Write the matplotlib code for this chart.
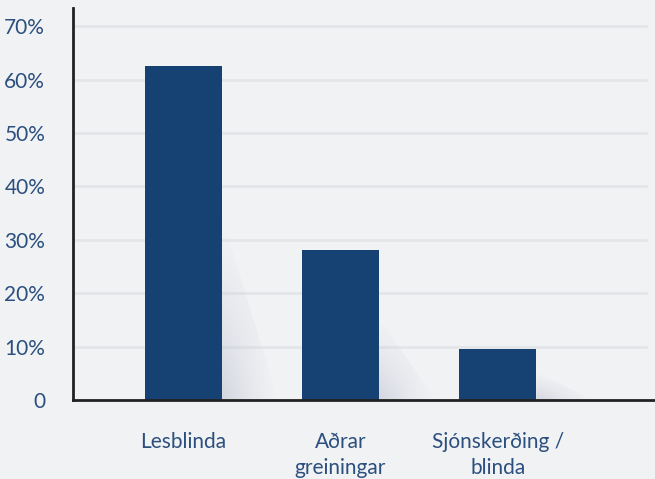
import matplotlib.pyplot as plt
import numpy as np
from matplotlib.patches import Polygon

categories = ["Lesblinda", "Aðrar\ngreiningar", "Sjónskerðing /\nblinda"]
values = [62.5, 28.0, 9.5]
yticks = [0, 10, 20, 30, 40, 50, 60, 70]
ytick_labels = ["0", "10%", "20%", "30%", "40%", "50%", "60%", "70%"]

bg = "#f1f2f4"
bar_color = "#154273"
text_color = "#2b4f7e"

plt.rcParams['font.family'] = ['Lato', 'DejaVu Sans']

fig = plt.figure(figsize=(6.55, 4.79), dpi=100, facecolor=bg)
ax = fig.add_axes([73 / 655, 79 / 479, 1 - 73 / 655, 392 / 479])
ax.set_facecolor(bg)

x = np.arange(len(categories))
width = 0.49

# soft shadow on the right of each bar
for xi, v in zip(x, values):
    x0 = xi + width / 2
    dx = 0.36
    h = v * 0.55
    gx = np.linspace(0, 1, 60)
    gy = np.linspace(0, 1, 60)
    GX, GY = np.meshgrid(gx, gy)
    grad = np.zeros((60, 60, 4))
    grad[..., 0] = 0.72
    grad[..., 1] = 0.73
    grad[..., 2] = 0.80
    grad[..., 3] = np.clip((1 - GX) * (1 - GY), 0, 1) ** 1.3 * 0.5
    im = ax.imshow(grad, extent=[x0, x0 + dx, 0, h], origin='lower',
                   aspect='auto', zorder=1, interpolation='bilinear')
    poly = Polygon([[x0, 0], [x0, h], [x0 + dx, 0]], closed=True,
                   transform=ax.transData, facecolor='none', edgecolor='none')
    ax.add_patch(poly)
    im.set_clip_path(poly)

ax.bar(x, values, width=width, color=bar_color, zorder=3)

ax.set_xlim(-0.70, 3.0)
ax.set_ylim(0, 73.4)

ax.set_yticks(yticks)
ax.set_yticklabels(ytick_labels)
ax.set_xticks(x)
ax.set_xticklabels(categories, linespacing=1.4)
ax.tick_params(axis='both', length=0, labelsize=15, colors=text_color)
ax.tick_params(axis='y', pad=20)
ax.tick_params(axis='x', pad=23)
for lbl in ax.get_yticklabels():
    lbl.set_horizontalalignment('right')

ax.grid(axis='y', color='#e3e5e9', linewidth=2, zorder=0)
ax.set_axisbelow(True)
for g in ax.get_ygridlines():
    g.set_xdata([0, 0.984])
    g.set_transform(ax.get_yaxis_transform())

ax.spines['top'].set_visible(False)
ax.spines['right'].set_visible(False)
for s in ['left', 'bottom']:
    ax.spines[s].set_color('#222222')
    ax.spines[s].set_linewidth(2)
    ax.spines[s].set_zorder(4)

fig.savefig("out.png", dpi=100, facecolor=bg)
